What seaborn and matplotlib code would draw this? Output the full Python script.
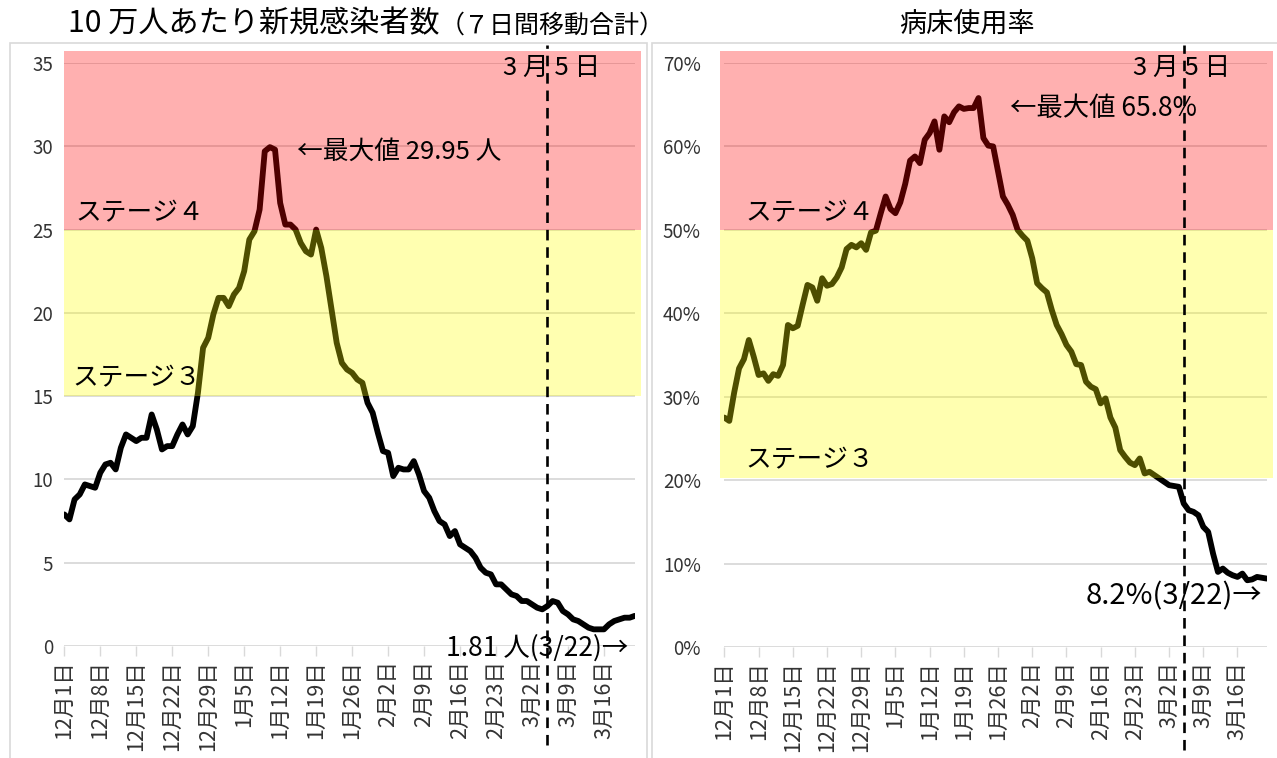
import numpy as np
import pandas as pd
import seaborn as sns
import matplotlib
matplotlib.use("Agg")
import matplotlib.pyplot as plt
from matplotlib.patches import Rectangle

# ---------------- data ----------------
tick_labels = ["12月1日", "12月8日", "12月15日", "12月22日", "12月29日", "1月5日",
               "1月12日", "1月19日", "1月26日", "2月2日", "2月9日", "2月16日",
               "2月23日", "3月2日", "3月9日", "3月16日"]

infections = [7.9, 7.6, 8.8, 9.1, 9.7, 9.6, 9.5, 10.4, 10.9, 11.0,
              10.6, 11.9, 12.7, 12.5, 12.3, 12.5, 12.5, 13.9, 13.0, 11.8,
              12.0, 12.0, 12.7, 13.3, 12.7, 13.2, 15.2, 17.9, 18.5, 19.9,
              20.9, 20.9, 20.4, 21.1, 21.5, 22.5, 24.4, 24.9, 26.2, 29.7,
              29.95, 29.8, 26.6, 25.3, 25.3, 25.0, 24.2, 23.7, 23.5, 25.0,
              23.9, 22.2, 20.2, 18.2, 17.0, 16.6, 16.4, 16.0, 15.8, 14.6,
              14.0, 12.8, 11.7, 11.6, 10.2, 10.7, 10.6, 10.6, 11.1, 10.3,
              9.3, 8.9, 8.1, 7.5, 7.3, 6.6, 6.9, 6.1, 5.9, 5.7,
              5.3, 4.7, 4.4, 4.3, 3.7, 3.7, 3.4, 3.1, 3.0, 2.7,
              2.7, 2.5, 2.3, 2.2, 2.4, 2.7, 2.6, 2.1, 1.9, 1.6,
              1.5, 1.3, 1.1, 1.0, 1.0, 1.0, 1.3, 1.5, 1.6, 1.7,
              1.7, 1.81]

bed_rate = [27.5, 27.1, 30.5, 33.4, 34.5, 36.8, 34.8, 32.6, 32.8, 31.9,
            32.7, 32.5, 33.8, 38.6, 38.2, 38.5, 41.0, 43.4, 43.1, 41.5,
            44.2, 43.3, 43.5, 44.3, 45.5, 47.7, 48.2, 47.9, 48.4, 47.6,
            49.7, 49.9, 52.0, 54.0, 52.5, 52.0, 53.3, 55.5, 58.3, 58.8,
            58.0, 60.8, 61.6, 63.0, 59.6, 63.6, 62.9, 64.1, 64.8, 64.5,
            64.6, 64.6, 65.8, 61.0, 60.1, 60.0, 57.0, 54.0, 53.0, 51.8,
            50.0, 49.3, 48.7, 46.6, 43.6, 43.0, 42.5, 40.4, 38.6, 37.5,
            36.2, 35.4, 33.9, 33.8, 31.8, 31.2, 30.9, 29.2, 29.8, 27.5,
            26.3, 23.6, 22.8, 22.1, 21.8, 22.6, 20.8, 21.0, 20.6, 20.2,
            19.8, 19.4, 19.3, 19.2, 17.2, 16.4, 16.2, 15.8, 14.4, 13.8,
            11.2, 9.0, 9.4, 8.9, 8.6, 8.4, 8.8, 8.0, 8.1, 8.4,
            8.3, 8.2]

day_index = list(range(len(infections)))
tick_days = list(range(0, 106, 7))
mark_day = 94  # 3月5日

left_yticks = [0, 5, 10, 15, 20, 25, 30, 35]
right_yticks = [0, 10, 20, 30, 40, 50, 60, 70]

# ---------------- style ----------------
sns.set_theme(style="white")
plt.rcParams["font.family"] = ["Noto Sans CJK JP", "DejaVu Sans"]

W, H = 1277, 758
fig = plt.figure(figsize=(W / 100, H / 100), dpi=100)


def fx(px):
    return px / W


def fy(py):
    return 1 - py / H


# panel frames
fig.patches.append(Rectangle((fx(10), -0.01), fx(647) - fx(10), fy(43) + 0.01,
                             transform=fig.transFigure, fill=False,
                             edgecolor="#d9d9d9", lw=1.2, zorder=0))
fig.patches.append(Rectangle((fx(652), -0.01), 0.5, fy(43) + 0.01,
                             transform=fig.transFigure, fill=False,
                             edgecolor="#d9d9d9", lw=1.2, zorder=0))

GRID = "#d9d9d9"
TXT = "#333333"


def setup(ax, yvals, ylim, yticks, ylabels, ypad, bands, dash_lim):
    df = pd.DataFrame({"day": day_index, "v": yvals})
    sns.lineplot(data=df, x="day", y="v", ax=ax, color="black", lw=4.2,
                 zorder=2, solid_joinstyle="round")
    ax.set_xlim(0, 111)
    ax.set_ylim(*ylim)
    ax.set_yticks(yticks)
    ax.set_yticklabels(ylabels)
    ax.set_xticks(tick_days)
    ax.set_xticklabels(tick_labels, rotation=90)
    ax.set_xlabel("")
    ax.set_ylabel("")
    for s in ax.spines.values():
        s.set_visible(False)
    for yt in yticks:
        ax.axhline(yt, color=GRID, lw=1.3, zorder=1)
    ax.tick_params(axis="x", bottom=True, length=7, width=1, color=GRID,
                   labelsize=15.5, labelcolor=TXT, pad=3)
    ax.tick_params(axis="y", left=False, labelsize=13.5, labelcolor=TXT, pad=ypad)
    # stage bands (semi transparent, drawn over the line)
    for (x0, x1, y0, y1, col) in bands:
        ax.add_patch(Rectangle((x0, y0), x1 - x0, y1 - y0, facecolor=col,
                               edgecolor="none", alpha=0.31, zorder=3,
                               clip_on=False))
    ax.plot([mark_day, mark_day], dash_lim, color="black", lw=1.9,
            linestyle=(0, (4, 2.6)), zorder=5, clip_on=False)


axL = fig.add_axes([fx(64.3), fy(646), fx(634.8) - fx(64.3), fy(63) - fy(646)])
setup(axL, infections, (0, 35), left_yticks, [str(v) for v in left_yticks], 2,
      [(0, 112.2, 25, 35.72, "#ff0000"), (0, 112.2, 15, 25, "#ffff00")],
      (-5.94, 36.07))

axR = fig.add_axes([fx(724.4), fy(647), fx(1266.8) - fx(724.4), fy(63) - fy(647)])
setup(axR, bed_rate, (0, 70), right_yticks, [f"{v}%" for v in right_yticks], 11,
      [(-1.0, 112.3, 50, 71.44, "#ff0000"), (-1.0, 112.3, 20.2, 50, "#ffff00")],
      (-12.35, 72.16))

# ---------------- texts ----------------
def ftext(x, y, s, size, ha="left", va="center", **kw):
    fig.text(fx(x), fy(y), s, fontsize=size, ha=ha, va=va, color="black",
             zorder=10, **kw)


ftext(68, 24, "10 万人あたり新規感染者数", 21.7)
ftext(440, 26, "（７日間移動合計）", 18)
ftext(967, 24, "病床使用率", 19.5, ha="center")

ftext(503, 68, "3 月 5 日", 18.5)
ftext(297, 152, "←最大値 29.95 人", 18.5)
ftext(75, 213, "ステージ４", 18.5)
ftext(72, 378, "ステージ３", 18.5)
ftext(628, 648, "1.81 人(3/22)→", 19, ha="right")

ftext(1133, 68, "3 月 5 日", 18.5)
ftext(1010, 108, "←最大値 65.8%", 19)
ftext(745, 213, "ステージ４", 18.5)
ftext(745, 460, "ステージ３", 18.5)
ftext(1262, 596, "8.2%(3/22)→", 21, ha="right")

fig.savefig("out.png", dpi=100)
